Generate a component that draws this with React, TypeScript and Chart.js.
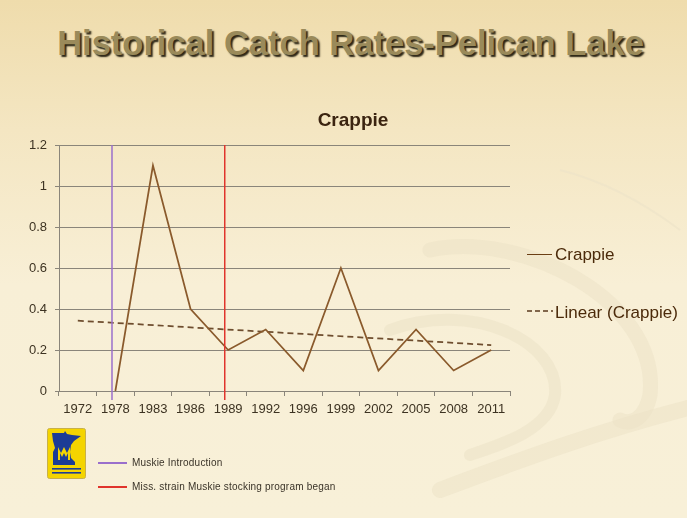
import React, { useEffect, useRef } from "react";
import { Chart, registerables } from "chart.js";

Chart.register(...registerables);

const categories = ["1972", "1978", "1983", "1986", "1989", "1992", "1996", "1999", "2002", "2005", "2008", "2011"];
const crappieValues = [null, 0, 1.1, 0.4, 0.2, 0.3, 0.1, 0.6, 0.1, 0.3, 0.1, 0.2];
const trendValues = [0.343, null, null, null, null, null, null, null, null, null, null, 0.224];
const yTicks = [0, 0.2, 0.4, 0.6, 0.8, 1, 1.2];
const markerCategories = ["1978", "1989"];
const markerLabels = ["Muskie Introduction", "Miss. strain Muskie stocking program began"];
const markerColors = ["#9a6fcc", "#e0342c"];
const markerShift = -0.09;

const FONT = "'Liberation Sans', Arial, sans-serif";

const markerPlugin = {
  id: "markers",
  afterDatasetsDraw(chart: any) {
    const x = chart.scales.x;
    const area = chart.chartArea;
    const ctx = chart.ctx;
    const step = x.getPixelForValue(1) - x.getPixelForValue(0);
    ctx.save();
    markerCategories.forEach((c, i) => {
      const idx = categories.indexOf(c);
      const px = x.getPixelForValue(idx) + markerShift * step;
      ctx.strokeStyle = markerColors[i];
      ctx.lineWidth = 1.5;
      ctx.beginPath();
      ctx.moveTo(px, area.top);
      ctx.lineTo(px, area.bottom + 9);
      ctx.stroke();
    });
    ctx.restore();
  },
};

function Logo() {
  return (
    <svg width="39" height="51" viewBox="0 0 39 51" style={{ position: "absolute", left: 47, top: 428 }}>
      <rect x="0.5" y="0.5" width="38" height="50" rx="2" fill="#f4d400" stroke="#c8b04a" />
      <path d="M5 5 L17 5 L18 3 L20 6 L25 7 L34 8 L27 13 L24 17 L23 24 L24 30 L28 34 L28 37 L6 37 L6 24 L8 20 L6 13 Z" fill="#1c3c96" />
      <path d="M11 32 L11 19 L14 25 L17 19 L20 25 L23 19 L23 32 L21 32 L21 25 L19 29 L17 25 L15 29 L13 25 L13 32 Z" fill="#f4d400" />
      <rect x="5" y="40" width="29" height="1.6" fill="#1c3c96" />
      <rect x="5" y="44" width="29" height="1.6" fill="#1c3c96" />
    </svg>
  );
}

export default function App() {
  const ref = useRef<HTMLCanvasElement>(null);

  useEffect(() => {
    const chart = new Chart(ref.current!, {
      type: "line",
      data: {
        labels: categories,
        datasets: [
          {
            label: "Crappie",
            data: crappieValues,
            borderColor: "#8a5a2c",
            borderWidth: 1.75,
            pointRadius: 0,
            tension: 0,
            spanGaps: false,
          },
          {
            label: "Linear (Crappie)",
            data: trendValues,
            borderColor: "#6e4d2e",
            borderWidth: 1.75,
            borderDash: [6, 4],
            pointRadius: 0,
            spanGaps: true,
          },
        ],
      },
      options: {
        animation: false,
        responsive: false,
        layout: { padding: { left: 10, top: 145, right: 177, bottom: 97 } },
        plugins: { legend: { display: false }, title: { display: false }, tooltip: { enabled: false } },
        scales: {
          x: {
            offset: true,
            afterFit: (s: any) => { s.height = 30; },
            grid: { offset: true, drawOnChartArea: false, drawTicks: true, tickLength: 5, color: "#8a857a" },
            border: { color: "#8a857a" },
            ticks: { color: "#3d3322", font: { family: FONT, size: 13 }, padding: 6, maxRotation: 0, autoSkip: false },
          },
          y: {
            min: 0,
            max: 1.2,
            afterFit: (s: any) => { s.width = 49; },
            afterBuildTicks: (s: any) => { s.ticks = yTicks.map((v) => ({ value: v })); },
            grid: { color: "#8a857a", tickLength: 4 },
            border: { color: "#8a857a" },
            ticks: { color: "#3d3322", font: { family: FONT, size: 13 }, padding: 8, callback: (v: any) => String(v) },
          },
        },
      },
      plugins: [markerPlugin],
    });
    return () => chart.destroy();
  }, []);

  return (
    <div style={{ position: "absolute", left: 0, top: 0, width: 687, height: 518, overflow: "hidden", background: "linear-gradient(180deg, #efdcac 0%, #f4e6c2 25%, #f8efd6 55%, #f8f0d8 100%)", fontFamily: FONT }}>
      <svg width="687" height="518" style={{ position: "absolute", left: 0, top: 0 }}>
        <path d="M390 330 C 470 300, 560 340, 555 395 C 550 430, 500 445, 470 455" fill="none" stroke="#ebe1c6" strokeWidth="12" strokeLinecap="round" opacity="0.55" />
        <path d="M430 250 C 520 230, 660 300, 650 395 C 645 420, 630 425, 620 420" fill="none" stroke="#ebe1c6" strokeWidth="15" strokeLinecap="round" opacity="0.5" />
        <path d="M440 490 C 520 460, 600 430, 700 405" fill="none" stroke="#ebe1c6" strokeWidth="16" strokeLinecap="round" opacity="0.5" />
        <path d="M560 170 C 600 180, 640 200, 680 230" fill="none" stroke="#ece2c8" strokeWidth="2" opacity="0.6" />
      </svg>
      <div style={{ position: "absolute", left: 7, top: 26, width: 687, textAlign: "center", fontSize: 34.5, lineHeight: 1, fontWeight: "bold", color: "#9a8a5a", textShadow: "2px 2px 1.5px #2b2515", whiteSpace: "nowrap" }}>
        Historical Catch Rates-Pelican Lake
      </div>
      <canvas ref={ref} width={687} height={518} style={{ position: "absolute", left: 0, top: 0 }} />
      <div style={{ position: "absolute", left: 253, width: 200, top: 110, textAlign: "center", fontSize: 19, lineHeight: 1, fontWeight: "bold", color: "#3b2410" }}>
        Crappie
      </div>
      <div style={{ position: "absolute", left: 527, top: 254, width: 25, borderTop: "1.5px solid #6b3f14" }} />
      <div style={{ position: "absolute", left: 555, top: 246, fontSize: 17, lineHeight: 1, color: "#4b2a0a", whiteSpace: "nowrap" }}>Crappie</div>
      <svg width="26" height="4" style={{ position: "absolute", left: 527, top: 309 }}>
        <line x1="0" y1="2" x2="26" y2="2" stroke="#5a3a1e" strokeWidth="1.5" strokeDasharray="5 3" />
      </svg>
      <div style={{ position: "absolute", left: 555, top: 304, fontSize: 17, lineHeight: 1, color: "#4b2a0a", whiteSpace: "nowrap" }}>Linear (Crappie)</div>
      <Logo />
      {markerLabels.map((t, i) => (
        <React.Fragment key={t}>
          <div style={{ position: "absolute", left: 98, top: 462 + i * 23.5, width: 29, borderTop: `2px solid ${markerColors[i]}` }} />
          <div style={{ position: "absolute", left: 132, top: 457 + i * 23.5, fontSize: 10, lineHeight: "12px", color: "#3a3328", whiteSpace: "nowrap", letterSpacing: 0.2 }}>{t}</div>
        </React.Fragment>
      ))}
    </div>
  );
}
